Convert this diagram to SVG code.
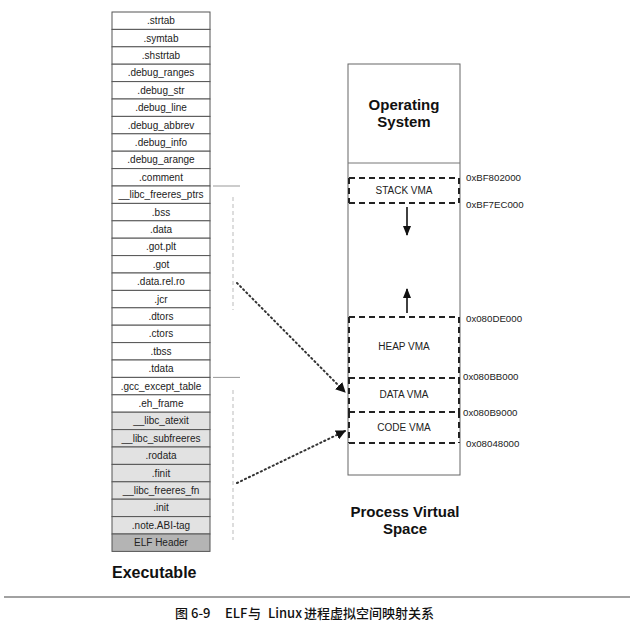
<svg xmlns="http://www.w3.org/2000/svg" width="630" height="635" viewBox="0 0 630 635">
<defs>
<style>
.sec{fill:#fff;stroke:#555;stroke-width:1}
.sh{fill:#e2e2e2;stroke:#555;stroke-width:1}
.dk{fill:#b4b4b4;stroke:#555;stroke-width:1}
.t{font-family:"Liberation Sans",Arial,sans-serif;font-size:10px;fill:#222;text-anchor:middle}
.addr{font-family:"Liberation Sans",Arial,sans-serif;font-size:9.7px;fill:#222}
.big{font-family:"Liberation Sans",Arial,sans-serif;font-size:15px;font-weight:bold;fill:#111;text-anchor:middle}
.dash{fill:none;stroke:#222;stroke-width:2;stroke-dasharray:6,4}
.dot{fill:none;stroke:#333;stroke-width:2;stroke-dasharray:1.2,3.2;stroke-linecap:round}
.brk{stroke:#999;stroke-width:1}
.brkv{stroke:#bbb;stroke-width:1;stroke-dasharray:4,3}
.cap{font-family:"Noto Sans CJK SC","Liberation Sans",sans-serif;font-size:13px;font-weight:500;fill:#111}
</style>
<marker id="ah" markerWidth="10" markerHeight="10" refX="9" refY="5" orient="auto" markerUnits="userSpaceOnUse">
<path d="M0,0 L10,5 L0,10 Z" fill="#111"/>
</marker>
<marker id="sa" markerWidth="10" markerHeight="10" refX="9" refY="5" orient="auto" markerUnits="userSpaceOnUse">
<path d="M0,1 L10,5 L0,9 Z" fill="#111"/>
</marker>
</defs>
<rect width="630" height="635" fill="#fff"/>

<g id="executable">
<g id="sec-strtab"><rect class="sec" x="112" y="12" width="98" height="17.4"/><text class="t" x="161" y="24.2">.strtab</text></g>
<g id="sec-symtab"><rect class="sec" x="112" y="29.4" width="98" height="17.4"/><text class="t" x="161" y="41.6">.symtab</text></g>
<g id="sec-shstrtab"><rect class="sec" x="112" y="46.8" width="98" height="17.4"/><text class="t" x="161" y="59">.shstrtab</text></g>
<g id="sec-debug_ranges"><rect class="sec" x="112" y="64.2" width="98" height="17.4"/><text class="t" x="161" y="76.4">.debug_ranges</text></g>
<g id="sec-debug_str"><rect class="sec" x="112" y="81.6" width="98" height="17.4"/><text class="t" x="161" y="93.8">.debug_str</text></g>
<g id="sec-debug_line"><rect class="sec" x="112" y="99" width="98" height="17.4"/><text class="t" x="161" y="111.2">.debug_line</text></g>
<g id="sec-debug_abbrev"><rect class="sec" x="112" y="116.4" width="98" height="17.4"/><text class="t" x="161" y="128.6">.debug_abbrev</text></g>
<g id="sec-debug_info"><rect class="sec" x="112" y="133.8" width="98" height="17.4"/><text class="t" x="161" y="146">.debug_info</text></g>
<g id="sec-debug_arange"><rect class="sec" x="112" y="151.2" width="98" height="17.4"/><text class="t" x="161" y="163.4">.debug_arange</text></g>
<g id="sec-comment"><rect class="sec" x="112" y="168.6" width="98" height="17.4"/><text class="t" x="161" y="180.8">.comment</text></g>
<g id="sec-libc_freeres_ptrs"><rect class="sec" x="112" y="186" width="98" height="17.4"/><text class="t" x="161" y="198.2">__libc_freeres_ptrs</text></g>
<g id="sec-bss"><rect class="sec" x="112" y="203.4" width="98" height="17.4"/><text class="t" x="161" y="215.6">.bss</text></g>
<g id="sec-data"><rect class="sec" x="112" y="220.8" width="98" height="17.4"/><text class="t" x="161" y="233">.data</text></g>
<g id="sec-got_plt"><rect class="sec" x="112" y="238.2" width="98" height="17.4"/><text class="t" x="161" y="250.4">.got.plt</text></g>
<g id="sec-got"><rect class="sec" x="112" y="255.6" width="98" height="17.4"/><text class="t" x="161" y="267.8">.got</text></g>
<g id="sec-data_rel_ro"><rect class="sec" x="112" y="273" width="98" height="17.4"/><text class="t" x="161" y="285.2">.data.rel.ro</text></g>
<g id="sec-jcr"><rect class="sec" x="112" y="290.4" width="98" height="17.4"/><text class="t" x="161" y="302.6">.jcr</text></g>
<g id="sec-dtors"><rect class="sec" x="112" y="307.8" width="98" height="17.4"/><text class="t" x="161" y="320">.dtors</text></g>
<g id="sec-ctors"><rect class="sec" x="112" y="325.2" width="98" height="17.4"/><text class="t" x="161" y="337.4">.ctors</text></g>
<g id="sec-tbss"><rect class="sec" x="112" y="342.6" width="98" height="17.4"/><text class="t" x="161" y="354.8">.tbss</text></g>
<g id="sec-tdata"><rect class="sec" x="112" y="360" width="98" height="17.4"/><text class="t" x="161" y="372.2">.tdata</text></g>
<g id="sec-gcc_except_table"><rect class="sec" x="112" y="377.4" width="98" height="17.4"/><text class="t" x="161" y="389.6">.gcc_except_table</text></g>
<g id="sec-eh_frame"><rect class="sec" x="112" y="394.8" width="98" height="17.4"/><text class="t" x="161" y="407">.eh_frame</text></g>
<g id="sec-libc_atexit"><rect class="sh" x="112" y="412.2" width="98" height="17.4"/><text class="t" x="161" y="424.4">__libc_atexit</text></g>
<g id="sec-libc_subfreeres"><rect class="sh" x="112" y="429.6" width="98" height="17.4"/><text class="t" x="161" y="441.8">__libc_subfreeres</text></g>
<g id="sec-rodata"><rect class="sh" x="112" y="447" width="98" height="17.4"/><text class="t" x="161" y="459.2">.rodata</text></g>
<g id="sec-finit"><rect class="sh" x="112" y="464.4" width="98" height="17.4"/><text class="t" x="161" y="476.6">.finit</text></g>
<g id="sec-libc_freeres_fn"><rect class="sh" x="112" y="481.8" width="98" height="17.4"/><text class="t" x="161" y="494">__libc_freeres_fn</text></g>
<g id="sec-init"><rect class="sh" x="112" y="499.2" width="98" height="17.4"/><text class="t" x="161" y="511.4">.init</text></g>
<g id="sec-note_abi_tag"><rect class="sh" x="112" y="516.6" width="98" height="17.4"/><text class="t" x="161" y="528.8">.note.ABI-tag</text></g>
<g id="sec-elf_header"><rect class="dk" x="112" y="534" width="98" height="17.4"/><text class="t" x="161" y="546.2">ELF Header</text></g>
<text id="label-executable" x="112" y="578" font-family="Liberation Sans, Arial, sans-serif" font-size="16" font-weight="bold" fill="#111">Executable</text>
</g>

<g id="segment-brackets">
<line class="brk" x1="213" y1="186" x2="240" y2="186"/>
<line class="brkv" x1="233" y1="197" x2="233" y2="310"/>
<line class="brk" x1="213" y1="377.4" x2="240" y2="377.4"/>
<line class="brkv" x1="233" y1="390" x2="233" y2="540"/>
</g>

<g id="process-space">
<g id="vm-frame">
<rect x="348" y="64" width="112" height="411" fill="none" stroke="#666" stroke-width="1"/>
<line x1="348" y1="163" x2="460" y2="163" stroke="#777" stroke-width="1"/>
</g>
<g id="os">
<text class="big" x="404" y="110">Operating</text>
<text class="big" x="404" y="127">System</text>
</g>
<g id="stack-vma">
<line class="dash" x1="349" y1="178" x2="459" y2="178"/>
<line class="dash" x1="349" y1="203" x2="459" y2="203"/>
<line class="dash" x1="349" y1="178" x2="349" y2="203"/>
<line class="dash" x1="459" y1="178" x2="459" y2="203"/>
<text class="t" x="404" y="194">STACK VMA</text>
</g>
<g id="heap-vma">
<line class="dash" x1="349" y1="317" x2="459" y2="317"/>
<line class="dash" x1="349" y1="317" x2="349" y2="378"/>
<line class="dash" x1="459" y1="317" x2="459" y2="378"/>
<text class="t" x="404" y="350">HEAP VMA</text>
</g>
<g id="data-vma">
<line class="dash" x1="349" y1="378" x2="459" y2="378"/>
<line class="dash" x1="349" y1="378" x2="349" y2="412"/>
<line class="dash" x1="459" y1="378" x2="459" y2="412"/>
<text class="t" x="404" y="398">DATA VMA</text>
</g>
<g id="code-vma">
<line class="dash" x1="349" y1="412" x2="459" y2="412"/>
<line class="dash" x1="349" y1="443" x2="459" y2="443"/>
<line class="dash" x1="349" y1="412" x2="349" y2="443"/>
<line class="dash" x1="459" y1="412" x2="459" y2="443"/>
<text class="t" x="404" y="431">CODE VMA</text>
</g>
<g id="addresses">
<text class="addr" x="466" y="181">0xBF802000</text>
<text class="addr" x="466" y="208">0xBF7EC000</text>
<text class="addr" x="466" y="322">0x080DE000</text>
<text class="addr" x="463" y="380">0x080BB000</text>
<text class="addr" x="463" y="416">0x080B9000</text>
<text class="addr" x="466" y="447">0x08048000</text>
</g>
<g id="label-process">
<text class="big" x="405" y="517">Process Virtual</text>
<text class="big" x="405" y="534">Space</text>
</g>
</g>

<g id="connectors">
<line x1="407" y1="207" x2="407" y2="235" stroke="#111" stroke-width="1.6" marker-end="url(#sa)"/>
<line x1="407" y1="313" x2="407" y2="289" stroke="#111" stroke-width="1.6" marker-end="url(#sa)"/>
<line class="dot" x1="237" y1="283" x2="345" y2="392" marker-end="url(#ah)"/>
<line class="dot" x1="237" y1="483" x2="345" y2="431" marker-end="url(#ah)"/>
</g>

<g id="caption">
<line x1="4" y1="597" x2="630" y2="597" stroke="#444" stroke-width="1.2"/>
<text class="cap" y="618"><tspan x="175">图</tspan><tspan x="191">6-9</tspan><tspan x="225">ELF</tspan><tspan x="248">与</tspan><tspan x="268">Linux</tspan><tspan x="304">进程虚拟空间映射关系</tspan></text>
</g>
</svg>
